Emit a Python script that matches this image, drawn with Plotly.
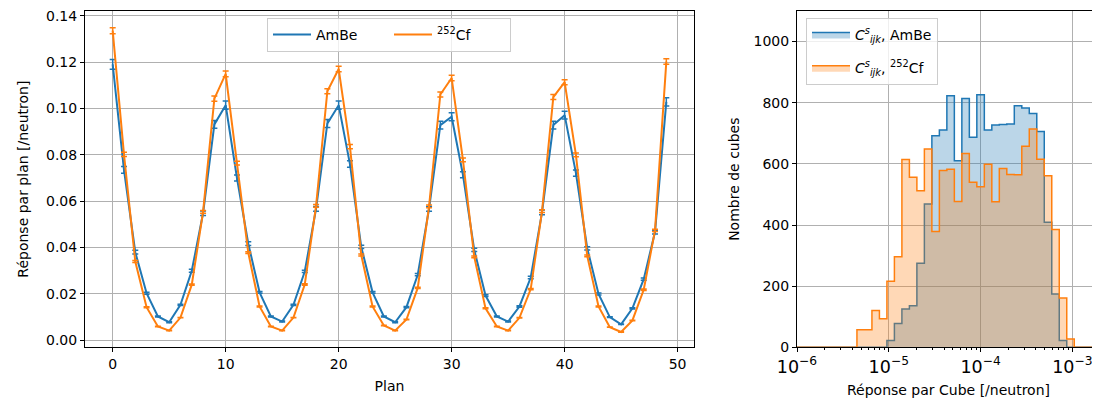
import numpy as np
import plotly.graph_objects as go

# ---------------- Left panel data ----------------
plan = list(range(50))
ambe = [0.119, 0.0735, 0.038, 0.0203, 0.0103, 0.0078, 0.0153, 0.030, 0.0548, 0.0931,
        0.1014, 0.070, 0.0417, 0.0207, 0.0103, 0.0081, 0.0153, 0.0297, 0.0567, 0.0935,
        0.1014, 0.0760, 0.0403, 0.0207, 0.0103, 0.0078, 0.0143, 0.0283, 0.0567, 0.0928,
        0.0964, 0.0714, 0.039, 0.0193, 0.0103, 0.0081, 0.0146, 0.0271, 0.0552, 0.0928,
        0.0971, 0.0721, 0.0397, 0.020, 0.010, 0.0069, 0.0138, 0.0264, 0.0467, 0.1028]
ambe_err = [0.0021, 0.0015, 0.0008, 0.0004, 0.0002, 0.0002, 0.0003, 0.0006, 0.0010, 0.0017,
            0.0018, 0.0013, 0.0008, 0.0004, 0.0002, 0.0002, 0.0003, 0.0005, 0.0010, 0.0017,
            0.0018, 0.0014, 0.0007, 0.0004, 0.0002, 0.0002, 0.0003, 0.0005, 0.0010, 0.0017,
            0.0017, 0.0013, 0.0007, 0.0004, 0.0002, 0.0002, 0.0003, 0.0005, 0.0010, 0.0017,
            0.0017, 0.0013, 0.0007, 0.0004, 0.0002, 0.0001, 0.0003, 0.0005, 0.0008, 0.0018]
cf = [0.1335, 0.0802, 0.034, 0.0143, 0.006, 0.0042, 0.0098, 0.024, 0.0554, 0.1042,
      0.1149, 0.0764, 0.0378, 0.0146, 0.006, 0.0042, 0.0098, 0.0241, 0.058, 0.1074,
      0.117, 0.0835, 0.0368, 0.0146, 0.0064, 0.0042, 0.009, 0.0226, 0.0578, 0.106,
      0.1131, 0.0778, 0.036, 0.0138, 0.006, 0.0042, 0.0097, 0.0221, 0.0557, 0.1049,
      0.1113, 0.080, 0.0364, 0.0146, 0.0057, 0.0036, 0.0086, 0.0218, 0.0474, 0.1202]
cf_err = [0.0013, 0.0009, 0.0004, 0.0002, 0.0001, 0.0001, 0.0001, 0.0003, 0.0006, 0.0011,
          0.0012, 0.0008, 0.0004, 0.0002, 0.0001, 0.0001, 0.0001, 0.0003, 0.0006, 0.0011,
          0.0012, 0.0009, 0.0004, 0.0002, 0.0001, 0.0001, 0.0001, 0.0003, 0.0006, 0.0011,
          0.0012, 0.0008, 0.0004, 0.0002, 0.0001, 0.0001, 0.0001, 0.0003, 0.0006, 0.0011,
          0.0011, 0.0008, 0.0004, 0.0002, 0.0001, 0.0001, 0.0001, 0.0003, 0.0005, 0.0012]

# ---------------- Right panel data (histogram, 49 log bins 1e-6..1e-2) ----------------
bin_edges = list(np.logspace(-6, -2, 50))
counts_ambe = [0] * 12 + [22, 78, 125, 136, 275, 469, 692, 711, 823, 610,
                          814, 687, 826, 711, 727, 729, 730, 790, 783, 765,
                          706, 409, 174, 22] + [0] * 13
counts_cf = [0] * 8 + [57, 57, 120, 93, 216, 296, 614, 556, 512, 649,
                       379, 578, 582, 477, 634, 540, 525, 599, 476, 585,
                       565, 564, 658, 714, 615, 561, 385, 161, 27] + [0] * 12

BLUE = "#1f77b4"
ORANGE = "#ff7f0e"
FONT = "DejaVu Sans"

# page body has an 8px margin: build the figure 8px smaller and shift positions
OFF = 8
W, H = 1100 - OFF, 407 - OFF


def px(x):
    return (x - OFF) / W


def py(y):
    return 1 - (y - OFF) / H


fig = go.Figure()

fig.add_trace(go.Scatter(
    x=plan, y=ambe, mode="lines", name="AmBe",
    line=dict(color=BLUE, width=2),
    error_y=dict(type="data", array=ambe_err, color=BLUE, thickness=1.5, width=3),
    xaxis="x", yaxis="y", legend="legend"))
fig.add_trace(go.Scatter(
    x=plan, y=cf, mode="lines", name="<sup>252</sup>Cf",
    line=dict(color=ORANGE, width=2),
    error_y=dict(type="data", array=cf_err, color=ORANGE, thickness=1.5, width=3),
    xaxis="x", yaxis="y", legend="legend"))

fig.add_trace(go.Scatter(
    x=bin_edges, y=counts_ambe + [counts_ambe[-1]], mode="lines", line_shape="hv",
    name="<i>C</i><sup><i>s</i></sup><sub><i>ijk</i></sub>, AmBe", legendgroup="a",
    line=dict(color=BLUE, width=1.5), fill="tozeroy", fillcolor="rgba(31,119,180,0.3)",
    xaxis="x2", yaxis="y2", legend="legend2"))
fig.add_trace(go.Scatter(
    x=bin_edges, y=counts_cf + [counts_cf[-1]], mode="lines", line_shape="hv",
    name="<i>C</i><sup><i>s</i></sup><sub><i>ijk</i></sub>, <sup>252</sup>Cf", legendgroup="b",
    line=dict(color=ORANGE, width=1.5), fill="tozeroy", fillcolor="rgba(255,127,14,0.3)",
    xaxis="x2", yaxis="y2", legend="legend2"))

axis_common = dict(showline=True, linecolor="black", linewidth=1, mirror=True,
                   ticks="outside", ticklen=4, tickcolor="black", showgrid=True,
                   gridcolor="#b0b0b0", gridwidth=1, zeroline=False, automargin=False,
                   ticklabeloverflow="allow",
                   tickfont=dict(family=FONT, size=14, color="black"),
                   title_font=dict(family=FONT, size=14, color="black"))

ydom = [py(347.3), py(11)]

fig.update_layout(
    width=W, height=H,
    margin=dict(l=0, r=0, t=0, b=0),
    paper_bgcolor="white", plot_bgcolor="white",
    font=dict(family=FONT, size=14, color="black"),
    xaxis=dict(domain=[px(85), px(694)], range=[-2.45, 51.45],
               tickvals=[0, 10, 20, 30, 40, 50], title=dict(text="Plan", standoff=10),
               anchor="y", **axis_common),
    yaxis=dict(domain=ydom, range=[-0.003, 0.142], tickvals=[0, 0.02, 0.04, 0.06, 0.08, 0.10, 0.12, 0.14],
               tickformat=".2f", title=dict(text="Réponse par plan [/neutron]", standoff=14),
               anchor="x", **axis_common),
    xaxis2=dict(domain=[px(797), 1.0], type="log", range=[-6, np.log10(2e-3)],
                dtick=1, exponentformat="power", showexponent="all",
                minor=dict(ticks="outside", ticklen=2, tickcolor="black", showgrid=False, dtick="D1"),
                title=dict(text="Réponse par Cube [/neutron]", standoff=9),
                anchor="y2", **axis_common),
    yaxis2=dict(domain=ydom, range=[0, 1100], tickvals=[0, 200, 400, 600, 800, 1000],
                title=dict(text="Nombre de cubes", standoff=10),
                anchor="x2", **axis_common),
    legend=dict(orientation="h", x=px(389), y=py(18), xanchor="center", yanchor="top",
                xref="paper", yref="paper", entrywidth=68, itemwidth=38,
                bgcolor="rgba(255,255,255,0.8)", bordercolor="#cccccc", borderwidth=1,
                font=dict(family=FONT, size=14, color="black")),
    legend2=dict(orientation="v", x=px(806), y=py(18), xanchor="left", yanchor="top",
                 xref="paper", yref="paper", tracegroupgap=12, itemwidth=38,
                 bgcolor="rgba(255,255,255,0.8)", bordercolor="#cccccc", borderwidth=1,
                 font=dict(family=FONT, size=14, color="black")),
    showlegend=True,
)

fig.write_html("out.html")
